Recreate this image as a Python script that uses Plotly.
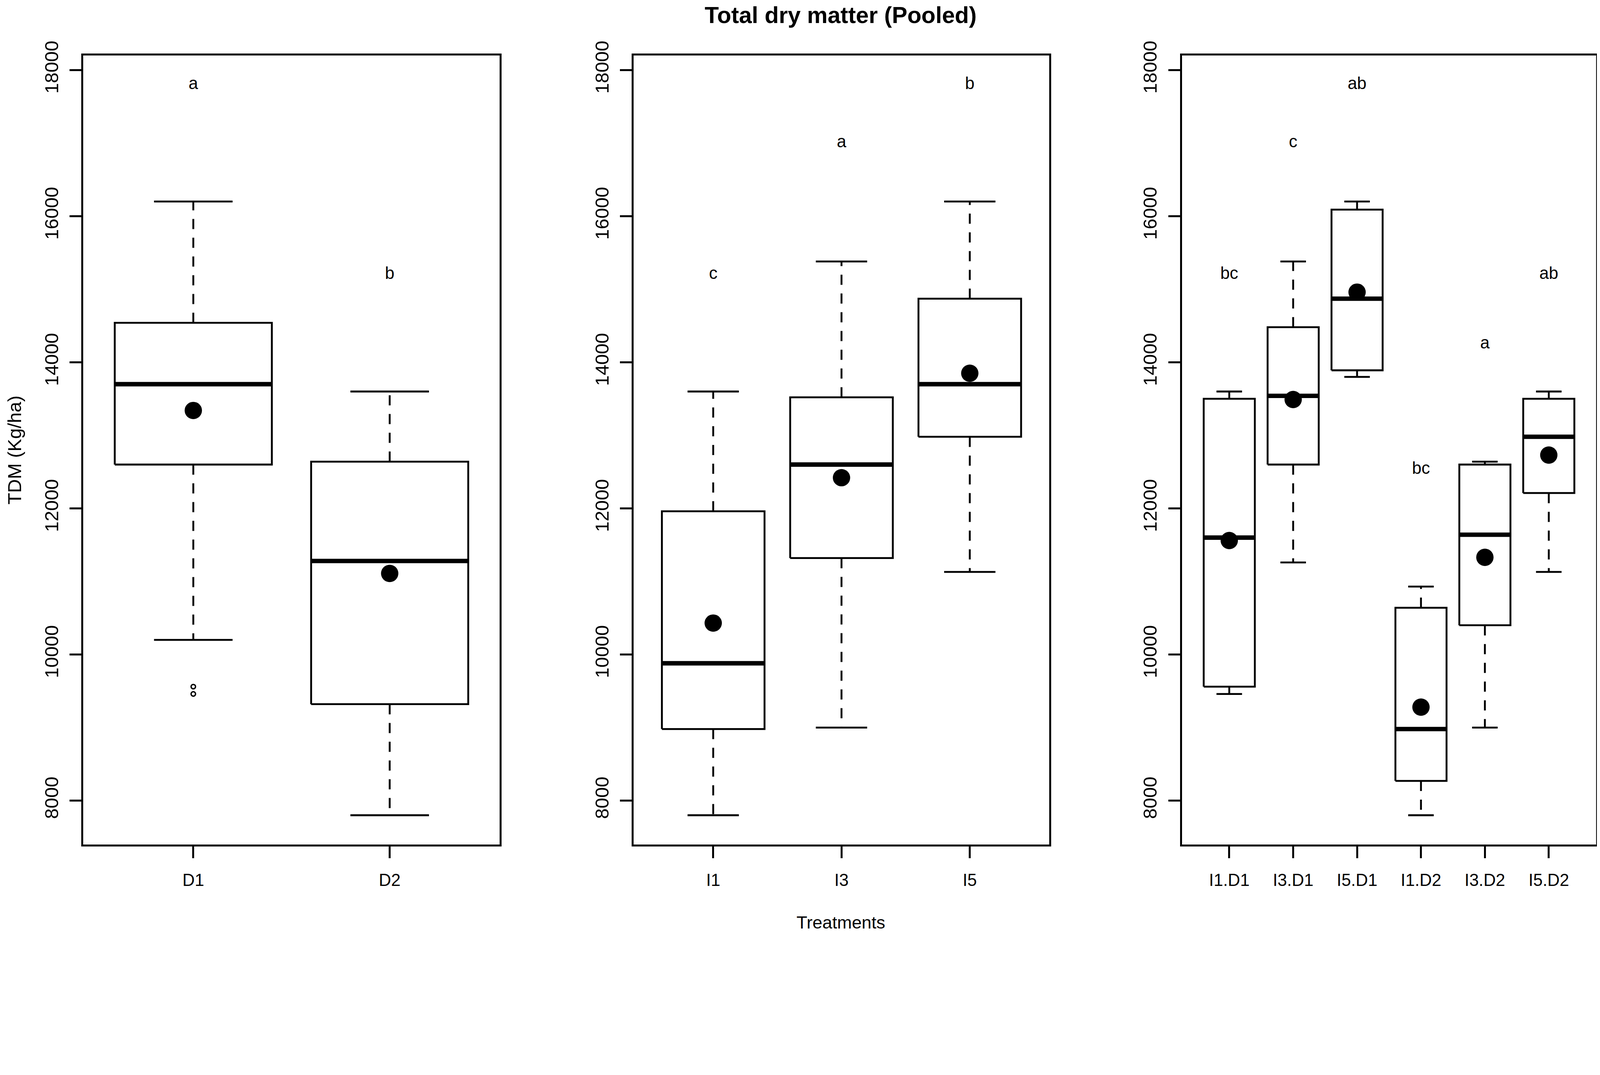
import plotly.graph_objects as go

# values (TDM, Kg/ha)
dose_groups = ["D1", "D2"]
dose_q1 = [12600, 9320]
dose_med = [13700, 11280]
dose_q3 = [14540, 12640]
dose_lo = [10200, 7800]
dose_hi = [16200, 13600]
dose_mean = [13340, 11110]
dose_letters = ["a", "b"]
dose_letter_y = [17800, 15200]
dose_out_pos = [1, 1]
dose_out_y = [9560, 9460]

irr_groups = ["I1", "I3", "I5"]
irr_q1 = [8980, 11320, 12980]
irr_med = [9880, 12600, 13700]
irr_q3 = [11960, 13520, 14870]
irr_lo = [7800, 9000, 11130]
irr_hi = [13600, 15380, 16200]
irr_mean = [10430, 12420, 13850]
irr_letters = ["c", "a", "b"]
irr_letter_y = [15200, 17000, 17800]

int_groups = ["I1.D1", "I3.D1", "I5.D1", "I1.D2", "I3.D2", "I5.D2"]
int_q1 = [9560, 12600, 13890, 8270, 10400, 12210]
int_med = [11600, 13540, 14870, 8980, 11640, 12980]
int_q3 = [13500, 14480, 16090, 10640, 12600, 13500]
int_lo = [9460, 11260, 13800, 7800, 9000, 11130]
int_hi = [13600, 15380, 16200, 10930, 12640, 13600]
int_mean = [11560, 13490, 14960, 9280, 11330, 12730]
int_letters = ["bc", "c", "ab", "bc", "a", "ab"]
int_letter_y = [15200, 17000, 17800, 12530, 14250, 15200]

y_ticks = [8000, 10000, 12000, 14000, 16000, 18000]

# page is laid out at 4096 css px wide (scaled to 4704 on screen), body margin 8px
K = 4096 / 4704
W, H = 4080, 2380


def s(v):
    return v * K


def fx(px):
    return min((px * K - 8) / W, 0.9995)


def fy(py):
    return 1 - (py * 2396 / 2752 - 8) / H


FONT = "Liberation Sans"
BOXW = 0.4      # half box width (boxwex 0.8)
CAPW = 0.2      # half staple width
LW = s(5.5)

fig = go.Figure()


def add_panel(k, groups, q1, med, q3, lo, hi, mean, letters, letter_y):
    xa = "x" if k == 1 else "x%d" % k
    ya = "y" if k == 1 else "y%d" % k
    pos = list(range(1, len(groups) + 1))

    bx, by, mx, my = [], [], [], []
    wx, wy, cx, cy = [], [], [], []
    for p, a, m, b, l, h in zip(pos, q1, med, q3, lo, hi):
        bx += [p - BOXW, p + BOXW, p + BOXW, p - BOXW, p - BOXW, None]
        by += [a, a, b, b, a, None]
        mx += [p - BOXW, p + BOXW, None]
        my += [m, m, None]
        wx += [p, p, None, p, p, None]
        wy += [b, h, None, a, l, None]
        cx += [p - CAPW, p + CAPW, None, p - CAPW, p + CAPW, None]
        cy += [h, h, None, l, l, None]

    line = dict(color="black", width=LW)
    fig.add_trace(go.Scatter(x=wx, y=wy, mode="lines", xaxis=xa, yaxis=ya,
                             line=dict(color="black", width=LW,
                                       dash="%dpx,%dpx" % (s(30), s(26)))))
    fig.add_trace(go.Scatter(x=cx, y=cy, mode="lines", xaxis=xa, yaxis=ya, line=line))
    fig.add_trace(go.Scatter(x=bx, y=by, mode="lines", xaxis=xa, yaxis=ya, line=line))
    fig.add_trace(go.Scatter(x=mx, y=my, mode="lines", xaxis=xa, yaxis=ya,
                             line=dict(color="black", width=s(13))))
    fig.add_trace(go.Scatter(x=pos, y=mean, mode="markers", xaxis=xa, yaxis=ya,
                             marker=dict(color="black", size=s(51), symbol="circle")))
    fig.add_trace(go.Scatter(x=pos, y=letter_y, mode="text", text=letters,
                             xaxis=xa, yaxis=ya,
                             textfont=dict(family=FONT, size=s(50), color="black")))
    return pos


p1 = add_panel(1, dose_groups, dose_q1, dose_med, dose_q3, dose_lo, dose_hi,
               dose_mean, dose_letters, dose_letter_y)
fig.add_trace(go.Scatter(x=dose_out_pos, y=dose_out_y, mode="markers",
                         marker=dict(symbol="circle-open", size=s(13), color="black",
                                     line=dict(width=s(4), color="black"))))
p2 = add_panel(2, irr_groups, irr_q1, irr_med, irr_q3, irr_lo, irr_hi,
               irr_mean, irr_letters, irr_letter_y)
p3 = add_panel(3, int_groups, int_q1, int_med, int_q3, int_lo, int_hi,
               int_mean, int_letters, int_letter_y)

x_domains = [[fx(245), fx(1469)], [fx(1863), fx(3085)], [fx(3475), fx(4698)]]
y_domain = [fy(2483), fy(163)]
x_ranges = [[0.44, 2.56], [0.38, 3.62], [0.26, 6.74]]
panels = [(p1, dose_groups), (p2, irr_groups), (p3, int_groups)]

axes = {}
for i, (pos, groups) in enumerate(panels):
    n = "" if i == 0 else str(i + 1)
    axes["xaxis" + n] = dict(
        domain=x_domains[i], range=x_ranges[i], anchor="y" + n,
        tickvals=pos, ticktext=groups, ticks="outside", ticklen=round(s(35)),
        tickwidth=LW, tickcolor="black", showline=True, linecolor="black",
        linewidth=LW, mirror=True, showgrid=False, zeroline=False,
        automargin=False, ticklabelstandoff=19,
        tickfont=dict(family=FONT, size=s(50), color="black"))
    axes["yaxis" + n] = dict(
        domain=y_domain, range=[7400, 18200], anchor="x" + n,
        tickvals=y_ticks, tickformat="d", tickangle=-90, ticks="outside",
        ticklen=round(s(35)), tickwidth=LW, tickcolor="black", showline=True,
        linecolor="black", linewidth=LW, mirror=True, showgrid=False,
        zeroline=False, automargin=False, ticklabelstandoff=10,
        tickfont=dict(family=FONT, size=s(56), color="black"))

fig.update_layout(**axes)
fig.update_layout(
    width=W, height=H, showlegend=False,
    margin=dict(l=0, r=0, t=0, b=0, pad=0),
    paper_bgcolor="white", plot_bgcolor="white",
    font=dict(family=FONT, color="black"),
    annotations=[
        dict(text="<b>Total dry matter (Pooled)</b>", x=fx(2472), y=fy(44),
             xref="paper", yref="paper", showarrow=False, xanchor="center",
             yanchor="middle", font=dict(family=FONT, size=s(68), color="black")),
        dict(text="Treatments", x=fx(2472), y=fy(2712), xref="paper",
             yref="paper", showarrow=False, xanchor="center", yanchor="middle",
             font=dict(family=FONT, size=s(52), color="black")),
        dict(text="TDM (Kg/ha)", x=fx(42), y=fy(1323), xref="paper",
             yref="paper", showarrow=False, textangle=-90, xanchor="center",
             yanchor="middle", font=dict(family=FONT, size=s(56), color="black")),
    ],
)

fig.write_html("out.html")
